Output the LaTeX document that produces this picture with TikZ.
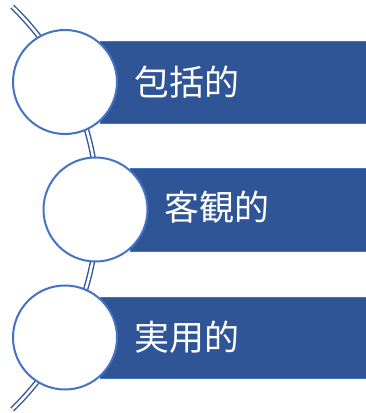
\documentclass[tikz,border=0pt]{standalone}
\usepackage{fontspec}
\newfontfamily\cjk{Noto Sans CJK JP}
\definecolor{barblue}{HTML}{2F5597}
\definecolor{ringblue}{HTML}{4472C4}
\begin{document}
\begin{tikzpicture}[x=1pt,y=1pt,
  bar/.style={fill=barblue, draw=ringblue, line width=0.6pt},
  ring/.style={circle, draw=ringblue, fill=white, line width=2pt, minimum size=104pt, inner sep=0pt},
  label/.style={anchor=west, text=white, font=\cjk\fontsize{35}{40}\selectfont, inner sep=0pt},
  track/.style={draw=barblue, double=white, double distance=2.6pt, line width=1.4pt}]
\useasboundingbox (0,0) rectangle (366,413);
% curved track
\draw[track] (-182.3,205) ++(46:280) arc[start angle=46, end angle=-46, radius=280];
% bars
\path[bar] (100,290) rectangle (367,372);
\path[bar] (130,162) rectangle (367,245);
\path[bar] (100,35) rectangle (367,116);
% circles
\node[ring] (c1) at (65,331) {};
\node[ring] (c2) at (95.5,203.5) {};
\node[ring] (c3) at (65,75.5) {};
% labels
\node[label] (t1) at (134,331) {包括的};
\node[label] (t2) at (164,206) {客観的};
\node[label] (t3) at (134,75.5) {実用的};
\end{tikzpicture}
\end{document}
